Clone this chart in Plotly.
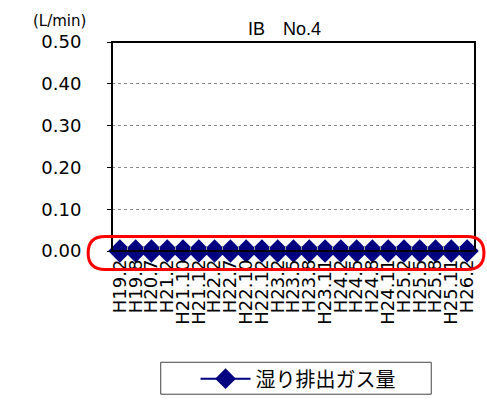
import plotly.graph_objects as go

# Sampling dates (Heisei era) and measured wet exhaust gas flow (L/min)
dates = ["H19.2", "H19.8", "H20.7", "H21.2", "H21.10", "H21.12",
         "H22.2", "H22.7", "H22.10", "H22.12", "H23.2", "H23.5",
         "H23.8", "H23.11", "H24.2", "H24.5", "H24.8", "H24.11",
         "H25.2", "H25.5", "H25.8", "H25.11", "H26.2"]
wet_gas = [0.00] * len(dates)

y_ticks = [0.0, 0.1, 0.2, 0.3, 0.4, 0.5]
y_labels = ["0.00", "0.10", "0.20", "0.30", "0.40", "0.50"]

W, H = 487, 408
L, R, T, B = 112, 477, 42, 258  # plot area in pixels

def px(x):
    return (x - L) / (R - L)

def py(y):
    return (B - y) / (B - T)

navy = "#000080"

fig = go.Figure()
fig.add_trace(go.Scatter(
    x=dates, y=wet_gas, mode="lines+markers",
    name="湿り排出ガス量",
    line=dict(color=navy, width=2),
    marker=dict(symbol="diamond", size=18, color=navy),
    cliponaxis=False,
))

# rounded red outline around the zero row
x0, x1, y0, y1, r = 88, 486, 243, 277, 17
rx, ry = r / (R - L), r / (B - T)
X0, X1, Y0, Y1 = px(x0), px(x1), py(y1), py(y0)
path = (f"M{X0+rx},{Y1} L{X1-rx},{Y1} Q{X1},{Y1} {X1},{Y1-ry} "
        f"L{X1},{Y0+ry} Q{X1},{Y0} {X1-rx},{Y0} L{X0+rx},{Y0} "
        f"Q{X0},{Y0} {X0},{Y0+ry} L{X0},{Y1-ry} Q{X0},{Y1} {X0+rx},{Y1} Z")

shapes = [
    dict(type="rect", xref="paper", yref="paper", x0=0, x1=1, y0=0, y1=1,
         line=dict(color="black", width=2), layer="above"),
    dict(type="path", xref="paper", yref="paper", path=path,
         line=dict(color="#ff0000", width=3), layer="above"),
    # legend frame
    dict(type="rect", xref="paper", yref="paper",
         x0=px(161), x1=px(433), y0=py(406), y1=py(373),
         line=dict(color="#444444", width=1)),
]

fig.update_layout(
    width=W, height=H,
    margin=dict(l=L, r=W - R, t=T, b=H - B),
    paper_bgcolor="white", plot_bgcolor="white",
    shapes=shapes,
    showlegend=True,
    legend=dict(x=px(196), y=py(390), xanchor="left", yanchor="middle",
                font=dict(family="Noto Sans CJK JP", size=20, color="black"),
                bgcolor="rgba(0,0,0,0)", borderwidth=0, itemwidth=50),
    annotations=[
        dict(text="IB　No.4", xref="paper", yref="paper", x=px(285), y=py(29),
             showarrow=False, xanchor="center", yanchor="middle",
             font=dict(family="Liberation Sans, Noto Sans CJK JP", size=18, color="black")),
        dict(text="(L/min)", xref="paper", yref="paper", x=px(88), y=py(20),
             showarrow=False, xanchor="right", yanchor="middle",
             font=dict(family="DejaVu Sans", size=15, color="black")),
    ],
)

fig.update_xaxes(
    type="category", range=[-0.5, len(dates) - 0.5],
    tickmode="array", tickvals=dates, ticktext=dates,
    tickangle=-90, showgrid=False,
    ticks="inside", ticklen=5, tickcolor="#999999", tickson="boundaries",
    ticklabelstandoff=4,
    tickfont=dict(family="DejaVu Sans", size=18, color="black"),
    showline=False, zeroline=False,
)
fig.update_yaxes(
    range=[0, 0.5], tickvals=y_ticks, ticktext=y_labels,
    ticks="outside", ticklen=4, tickcolor="black",
    ticklabelstandoff=22,
    tickfont=dict(family="DejaVu Sans", size=18, color="black"),
    showgrid=True, gridcolor="#888888", griddash="dot", gridwidth=1,
    zeroline=False, showline=False,
)

fig.write_html("out.html")
